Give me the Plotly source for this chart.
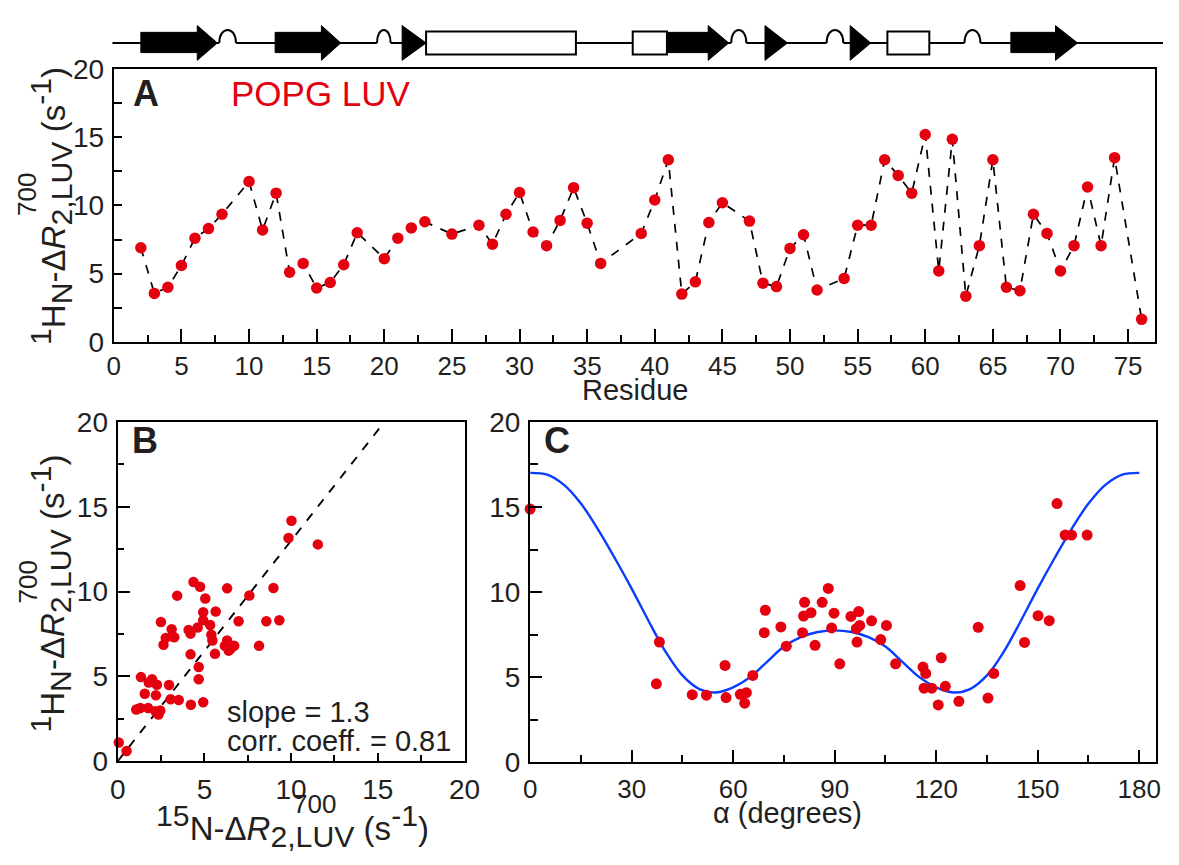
import plotly.graph_objects as go

W, H = 1179, 865

# ---- Panel A: per-residue 1HN relaxation enhancement ----
residue = [2, 3, 4, 5, 6, 7, 8, 10, 11, 12, 13, 14, 15, 16, 17, 18, 20, 21, 22, 23,
           25, 27, 28, 29, 30, 31, 32, 33, 34, 35, 36, 39, 40, 41, 42, 43, 44, 45,
           47, 48, 49, 50, 51, 52, 54, 55, 56, 57, 58, 59, 60, 61, 62, 63, 64, 65,
           66, 67, 68, 69, 70, 71, 72, 73, 74, 76]
dr2_hn = [6.9, 3.55, 4.0, 5.6, 7.6, 8.3, 9.35, 11.75, 8.2, 10.9, 5.1, 5.75, 3.95, 4.35,
          5.65, 8.0, 6.1, 7.6, 8.35, 8.8, 7.9, 8.55, 7.15, 9.35, 10.95, 8.05, 7.05, 8.9,
          11.3, 8.7, 5.75, 7.95, 10.4, 13.35, 3.5, 4.4, 8.75, 10.2, 8.85, 4.3, 4.05,
          6.85, 7.85, 3.8, 4.65, 8.55, 8.55, 13.35, 12.2, 10.9, 15.2, 5.2, 14.85, 3.35,
          7.05, 13.35, 4.0, 3.75, 9.35, 7.95, 5.2, 7.05, 11.35, 7.05, 13.5, 1.65]

# ---- Panel B: 1HN vs 15N correlation ----
dr2_n15 = [0.06, 0.51, 1.07, 1.34, 1.30, 1.56, 1.75, 1.79, 1.98, 2.17, 2.20, 2.26, 2.35,
           2.45, 2.49, 2.64, 2.77, 2.96, 3.05, 3.11, 3.16, 3.26, 3.43, 3.52, 4.09, 4.20,
           4.20, 4.22, 4.37, 4.61, 4.67, 4.67, 4.75, 4.93, 4.93, 4.93, 5.05, 5.33, 5.40,
           5.46, 5.61, 5.65, 6.18, 6.31, 6.31, 6.40, 6.50, 6.72, 6.97, 7.59, 8.15, 8.57,
           8.98, 9.32, 9.85, 10.02, 11.54]
dr2_hn_b = [1.11, 0.60, 3.05, 4.96, 3.14, 3.98, 3.14, 4.64, 4.83, 2.95, 3.89, 4.51, 2.76,
            2.99, 8.21, 6.86, 7.27, 4.49, 3.65, 7.78, 7.37, 7.31, 9.76, 3.61, 7.74, 7.52,
            6.30, 3.33, 10.56, 7.88, 5.55, 4.83, 10.28, 3.48, 8.78, 8.31, 9.59, 8.03,
            7.46, 7.12, 6.33, 8.83, 6.80, 10.19, 7.12, 6.52, 6.62, 6.80, 8.25, 9.77,
            6.80, 8.25, 10.21, 8.31, 13.16, 14.17, 12.78]
slope = 1.3
corr_coeff = 0.81

# ---- Panel C: dependence on alpha ----
alpha = [0.0, 37.3, 38.2, 47.9, 52.1, 57.6, 57.9, 62.1, 63.9, 63.4, 65.8, 69.2, 69.5,
         74.1, 75.7, 80.5, 80.8, 81.1, 83.0, 84.2, 86.3, 88.1, 89.1, 89.8, 91.5, 94.8,
         97.1, 97.4, 96.4, 96.6, 100.9, 103.6, 105.3, 108.0, 116.1, 116.9, 116.4,
         118.7, 120.6, 121.5, 122.7, 126.7, 132.4, 135.3, 137.0, 144.8, 146.1, 150.1,
         153.4, 155.7, 158.1, 160.0, 164.6]
dr2_alpha = [14.88, 4.61, 7.06, 3.97, 3.94, 5.69, 3.80, 3.99, 4.09, 3.47, 5.10, 7.61,
             8.93, 7.95, 6.82, 7.61, 8.59, 9.40, 8.79, 6.87, 9.40, 10.21, 7.89, 8.76,
             5.78, 8.57, 8.85, 8.04, 7.85, 7.06, 8.31, 7.21, 8.04, 5.78, 5.59, 5.22, 4.35,
             4.35, 3.37, 6.14, 4.46, 3.58, 7.93, 3.77, 5.22, 10.38, 7.04, 8.61, 8.32, 15.2,
             13.35, 13.35, 13.35]
fit_alpha = [0, 5, 10, 15, 20, 25, 30, 35, 40, 45, 50, 55, 60, 65, 70, 75, 80, 85, 90,
             95, 100, 105, 110, 115, 120, 125, 130, 135, 140, 145, 150, 155, 160, 165,
             170, 175, 180]
fit_curve = [17.0, 16.9, 16.3, 15.2, 13.7, 12.0, 10.2, 8.3, 6.5, 5.1, 4.3, 4.1, 4.4, 5.0,
             5.9, 6.8, 7.35, 7.65, 7.75, 7.65, 7.35, 6.8, 5.9, 5.0, 4.4, 4.1, 4.3, 5.1,
             6.5, 8.3, 10.2, 12.0, 13.7, 15.2, 16.3, 16.9, 17.0]

# ---- secondary structure (residue numbers) ----
strands = [(2.0, 6.17, 7.66), (11.93, 15.35, 16.78), (21.32, 21.32, 23.09),
           (40.9, 43.95, 45.47), (48.15, 48.15, 49.81), (54.45, 54.45, 55.97),
           (66.33, 69.63, 71.26)]
helices = [(23.09, 34.17), (38.37, 40.9), (57.2, 60.3)]
loops = [(7.8, 9.03), (19.46, 20.47), (45.65, 46.77), (52.71, 53.94), (62.9, 64.08)]

RED = "#e5000f"
BLUE = "#0a3cff"
INK = "#231f20"
FONT = "Liberation Sans, Arial, sans-serif"


def fx(p):
    return p / W


def fy(p):
    return 1 - p / H


# plot-area boxes in pixels: (left, right, top, bottom)
boxA = (108, 1171, 56, 339)
boxB = (112, 466, 422, 774)
boxC = (533, 1172, 422, 775)
xrangeA = [0, 77]

fig = go.Figure()

fig.add_trace(go.Scatter(
    x=residue, y=dr2_hn, mode="lines+markers", xaxis="x", yaxis="y",
    line=dict(color="black", width=1.7, dash="dash"),
    marker=dict(color=RED, size=11.5), cliponaxis=False))

fig.add_trace(go.Scatter(
    x=[0, 20 / slope], y=[0, 20], mode="lines", xaxis="x2", yaxis="y2",
    line=dict(color="black", width=1.9, dash="dash")))
fig.add_trace(go.Scatter(
    x=dr2_n15, y=dr2_hn_b, mode="markers", xaxis="x2", yaxis="y2",
    marker=dict(color=RED, size=10.5), cliponaxis=False))

fig.add_trace(go.Scatter(
    x=fit_alpha, y=fit_curve, mode="lines", xaxis="x3", yaxis="y3",
    line=dict(color=BLUE, width=2.4, shape="spline", smoothing=1.0)))
fig.add_trace(go.Scatter(
    x=alpha, y=dr2_alpha, mode="markers", xaxis="x3", yaxis="y3",
    marker=dict(color=RED, size=11), cliponaxis=False))


def axis_style(box, horiz, rng, dtick, minor_dt, major_len, minor_len, size, standoff):
    lo, hi = (box[0], box[1]) if horiz else (box[3], box[2])
    dom = [fx(lo), fx(hi)] if horiz else [fy(lo), fy(hi)]
    return dict(
        domain=dom, range=rng, dtick=dtick, tick0=0, ticks="inside",
        ticklen=major_len, tickwidth=2, tickcolor="black",
        minor=dict(dtick=minor_dt, tick0=0, ticks="inside", ticklen=minor_len,
                   tickwidth=2, tickcolor="black"),
        showline=True, linewidth=2.2, linecolor="black", mirror=True,
        showgrid=False, zeroline=False, ticklabelstandoff=standoff,
        tickfont=dict(family=FONT, size=size, color=INK))


lay = dict(
    width=W, height=H, margin=dict(l=0, r=0, t=0, b=0),
    paper_bgcolor="white", plot_bgcolor="rgba(0,0,0,0)", showlegend=False,
    font=dict(family=FONT, color=INK),
)
lay["xaxis"] = axis_style(boxA, True, xrangeA, 5, 2.5, 13, 7, 26, 0)
lay["yaxis"] = axis_style(boxA, False, [0, 20], 5, 2.5, 8, 8, 28, 2)
lay["xaxis2"] = axis_style(boxB, True, [0, 20], 5, 2.5, 8, 6, 28, 2)
lay["yaxis2"] = axis_style(boxB, False, [0, 20], 5, 2.5, 12, 6, 28, 2)
lay["xaxis3"] = axis_style(boxC, True, [0, 185], 30, 15, 12, 7, 26, 2)
lay["yaxis3"] = axis_style(boxC, False, [0, 20], 5, 2.5, 12, 8, 28, 2)
for k in ("xaxis", "yaxis", "xaxis2", "yaxis2", "xaxis3", "yaxis3"):
    lay[k]["anchor"] = {"x": "y", "y": "x"}[k[0]] + k[5:]

# strip above panel A that carries the secondary-structure cartoon
scale = (boxA[1] - boxA[0]) / (xrangeA[1] - xrangeA[0])
lay["xaxis4"] = dict(domain=[0, 1], range=[-boxA[0] / scale, xrangeA[1] + (W - boxA[1]) / scale],
                     visible=False, anchor="y4")
lay["yaxis4"] = dict(domain=[fy(56), 1], range=[56, 0], visible=False, anchor="x4")
fig.update_layout(**lay)
fig.add_trace(go.Scatter(x=[0], y=[0], xaxis="x4", yaxis="y4", mode="markers",
                         marker=dict(opacity=0), hoverinfo="skip"))

shapes = []
base_y, r_lo, r_hi, h_lo, h_hi = 29, 18, 39, 11, 47
shapes.append(dict(type="line", xref="x4", yref="y4", x0=-0.1, x1=lay["xaxis4"]["range"][1],
                   y0=base_y, y1=base_y, line=dict(color="black", width=2)))
for a, b in loops:
    shapes.append(dict(type="line", xref="x4", yref="y4", x0=a, x1=b, y0=base_y, y1=base_y,
                       line=dict(color="white", width=3)))
    shapes.append(dict(type="path", xref="x4", yref="y4",
                       path=f"M {a},{base_y} C {a},{h_lo} {b},{h_lo} {b},{base_y}",
                       line=dict(color="black", width=2)))
for s, hs, t in strands:
    if hs > s:
        p = (f"M {s},{r_lo} L {hs},{r_lo} L {hs},{h_lo} L {t},{base_y} "
             f"L {hs},{h_hi} L {hs},{r_hi} L {s},{r_hi} Z")
    else:
        p = f"M {s},{h_lo} L {t},{base_y} L {s},{h_hi} Z"
    shapes.append(dict(type="path", xref="x4", yref="y4", path=p,
                       fillcolor="black", line=dict(color="black", width=1)))
for a, b in helices:
    shapes.append(dict(type="rect", xref="x4", yref="y4", x0=a, x1=b, y0=17, y1=41,
                       fillcolor="white", line=dict(color="black", width=2)))
fig.update_layout(shapes=shapes)


def big(t):
    return f"<span style='font-size:131%'>{t}</span>"


ytitle = (f"<sup>{big('1')}</sup>H<sub>{big('N')}</sub>-Δ<i>R</i><sub>{big('2,LUV')}</sub>"
          f" (s<sup>{big('-1')}</sup>)")
xtitle = (f"<sup>{big('15')}</sup>N-Δ<i>R</i><sub>{big('2,LUV')}</sub>"
          f" (s<sup>{big('-1')}</sup>)")


def ann(text, x, y, size, angle=0, xa="center", ya="middle", color=INK):
    return dict(text=text, x=fx(x), y=fy(y), xref="paper", yref="paper", showarrow=False,
                xanchor=xa, yanchor=ya, textangle=angle,
                font=dict(family=FONT, size=size, color=color))


annotations = [
    ann(ytitle, 44, 198, 33, angle=-90),
    ann("700", 20, 186, 26, angle=-90),
    ann(ytitle, 44, 600, 33, angle=-90),
    ann("700", 20, 588, 26, angle=-90),
    ann(xtitle, 290, 841, 33),
    ann("700", 313, 818, 26),
    ann("Residue", 640, 389, 29),
    ann("α (degrees)", 796, 828, 29),
    ann("<b>A</b>", 141, 81, 36),
    ann("POPG LUV", 320, 81, 35, color=RED),
    ann("<b>B</b>", 140, 441, 36),
    ann("<b>C</b>", 560, 441, 36),
    ann(f"slope = {slope}", 221, 723, 29, xa="left"),
    ann(f"corr. coeff. = {corr_coeff}", 221, 753, 29, xa="left"),
]
fig.update_layout(annotations=annotations)

fig.write_html("out.html")
